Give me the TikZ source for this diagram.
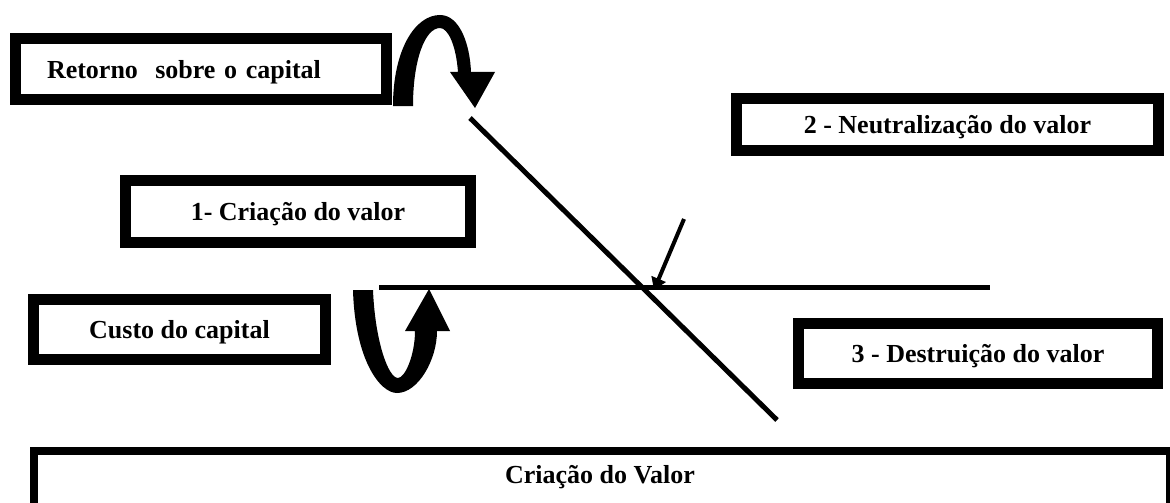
\documentclass[tikz,border=0pt]{standalone}
\usepackage{fontspec}
\setmainfont{Liberation Serif}
\usetikzlibrary{arrows.meta}
\begin{document}
\begin{tikzpicture}[x=1pt, y=-1pt,
    valbox/.style={draw, line width=11pt, inner sep=0pt, text height=18pt, text depth=0pt,
      font=\fontsize{26}{30}\selectfont\bfseries},
    valtext/.style={inner sep=0pt, text height=18pt, text depth=0pt,
      font=\fontsize{26}{30}\selectfont\bfseries},
    linha/.style={line width=5pt}]
            \useasboundingbox (0,0) rectangle (1170,503);
            \node[valbox, minimum width=371pt, minimum height=61pt, text width=308pt, inner xsep=31.5pt, align=left] (retorno) at (201,69) {Retorno~ sobre o capital};
            \node[valbox, minimum width=422pt, minimum height=52pt] (neutro) at (947.5,124.5) {2 - Neutralização do valor};
            \node[valbox, minimum width=345pt, minimum height=62pt] (criacao) at (298,211) {1- Criação do valor};
            \node[valbox, minimum width=292pt, minimum height=60pt] (custo) at (179.5,329) {Custo do capital};
            \node[valbox, minimum width=359pt, minimum height=60pt] (destruicao) at (978,353) {3 - Destruição do valor};
            \node[draw, line width=8pt, minimum width=1136pt, minimum height=89pt] (fundo) at (602,495.5) {};
            \node[valtext] (valor) at (600,474) {Criação do Valor};

            \coordinate (d1) at (470,118);
            \coordinate (d2) at (777,420);
            \coordinate (h1) at (379,287);
            \coordinate (h2) at (990,287);
            \coordinate (p1) at (684,219);
            \coordinate (p2) at (654,290);
            \draw[linha] (d1) -- (d2);
            \draw[linha] (h1) -- (h2);
            \draw[line width=4pt, -{Triangle[length=12pt,width=15pt]}] (p1) -- (p2);

            % curved arrows
            \fill (393,106) .. controls (393,50) and (415,15) .. (440,15)
                .. controls (460,15) and (470,45) .. (471,72)
                -- (495,72) -- (475,108) -- (450,72) -- (458,72)
                .. controls (456,45) and (448,28) .. (440,28)
                .. controls (425,28) and (413,60) .. (413,106) -- cycle;
            \fill (353,290) .. controls (355,360) and (380,393) .. (397,393)
                .. controls (418,393) and (437,360) .. (437,331)
                -- (450,331) -- (429,289) -- (405,331) -- (415,331)
                .. controls (415,355) and (405,378) .. (398,378)
                .. controls (388,378) and (375,340) .. (373,290) -- cycle;

        \end{tikzpicture}
\end{document}
